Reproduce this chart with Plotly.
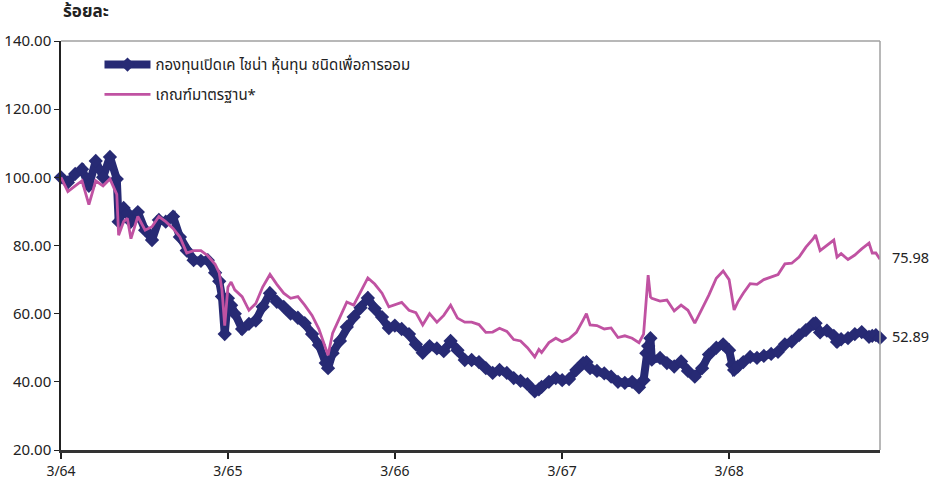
import plotly.graph_objects as go

dates = [
    "2021-03-01", "2021-03-16", "2021-04-01", "2021-04-16", "2021-05-01", "2021-05-16",
    "2021-06-01", "2021-06-16", "2021-07-01", "2021-07-05", "2021-07-16", "2021-07-24",
    "2021-08-01", "2021-08-16", "2021-09-01", "2021-09-16", "2021-10-01", "2021-10-16",
    "2021-11-01", "2021-11-16", "2021-12-01", "2021-12-16", "2022-01-01", "2022-01-16",
    "2022-02-01", "2022-02-10", "2022-02-16", "2022-02-22", "2022-03-01", "2022-03-08",
    "2022-03-16", "2022-04-01", "2022-04-16", "2022-05-01", "2022-05-16", "2022-06-01",
    "2022-06-16", "2022-07-01", "2022-07-16", "2022-08-01", "2022-08-16", "2022-09-01",
    "2022-09-16", "2022-10-01", "2022-10-06", "2022-10-16", "2022-11-01", "2022-11-16",
    "2022-12-01", "2022-12-16", "2023-01-01", "2023-01-16", "2023-02-01", "2023-02-16",
    "2023-03-01", "2023-03-16", "2023-04-01", "2023-04-16", "2023-05-01", "2023-05-16",
    "2023-06-01", "2023-06-16", "2023-07-01", "2023-07-16", "2023-08-01", "2023-08-16",
    "2023-09-01", "2023-09-16", "2023-10-01", "2023-10-16", "2023-11-01", "2023-11-16",
    "2023-12-01", "2023-12-16", "2024-01-01", "2024-01-10", "2024-01-16", "2024-02-01",
    "2024-02-16", "2024-03-01", "2024-03-16", "2024-04-01", "2024-04-16", "2024-04-23",
    "2024-05-01", "2024-05-16", "2024-06-01", "2024-06-16", "2024-07-01", "2024-07-16",
    "2024-08-01", "2024-08-16", "2024-08-26", "2024-09-01", "2024-09-05", "2024-09-10",
    "2024-09-13", "2024-10-01", "2024-10-16", "2024-11-01", "2024-11-16", "2024-12-01",
    "2024-12-16", "2025-01-01", "2025-01-16", "2025-02-01", "2025-02-16", "2025-03-01",
    "2025-03-08", "2025-03-12", "2025-03-20", "2025-04-01", "2025-04-16", "2025-05-01",
    "2025-05-16", "2025-06-01", "2025-06-16", "2025-07-01", "2025-07-16", "2025-08-01",
    "2025-08-16", "2025-09-01", "2025-09-06", "2025-09-16", "2025-10-01", "2025-10-16",
    "2025-10-23", "2025-11-01", "2025-11-16", "2025-12-01", "2025-12-16", "2026-01-01",
    "2026-01-08", "2026-01-16", "2026-01-25",
]

fund = [
    100.0, 98.5, 101.0, 102.4, 97.5, 104.8,
    100.0, 106.0, 99.5, 87.0, 91.0, 89.5,
    87.0, 89.8, 84.5, 81.6, 87.5, 87.0,
    88.5, 82.5, 78.5, 75.7, 75.5, 75.7,
    72.0, 69.5, 65.0, 54.0, 64.5, 62.5,
    60.0, 55.5, 57.0, 58.0, 62.0, 66.0,
    63.5, 62.0, 60.0, 58.8, 57.2, 54.0,
    50.8, 45.5, 44.0, 48.4, 52.0, 56.1,
    59.0, 61.7, 64.6, 61.5, 59.0, 55.8,
    56.5, 55.5, 54.0, 51.0, 48.5, 50.5,
    49.8, 49.0, 52.0, 49.3, 46.4, 46.4,
    45.8, 44.0, 42.6, 43.5, 42.6, 41.1,
    40.3, 39.3, 37.2, 37.8, 38.5, 40.0,
    41.1, 40.5, 40.8, 43.5, 45.5, 45.8,
    44.0, 43.2, 42.5, 41.5, 40.0, 39.7,
    40.0, 38.4, 40.5, 48.4, 50.5, 52.8,
    46.5, 47.0, 45.5, 44.5, 46.0, 43.2,
    41.5, 44.0, 48.0, 50.0, 51.0, 49.3,
    45.0, 43.5, 44.5, 45.8, 47.3, 47.0,
    47.6, 48.2, 48.8, 51.0, 51.8, 53.7,
    55.2, 57.0, 57.2, 54.5, 55.0, 53.5,
    51.7, 52.5, 52.8, 54.0, 54.6, 53.2,
    53.5, 53.7, 52.89,
]

bench = [
    100.0, 95.8, 97.5, 99.0, 92.0, 99.0,
    97.5, 99.5, 95.0, 83.0, 87.0, 88.0,
    82.0, 88.5, 84.5, 85.5, 88.5, 87.0,
    85.0, 82.5, 77.8, 78.5, 78.5, 77.0,
    74.5, 72.0, 67.0, 56.5, 67.8, 69.3,
    67.0, 65.0, 61.0, 63.0, 67.8, 71.5,
    68.6, 66.0, 64.5, 65.0, 62.5, 59.5,
    55.5, 50.0, 47.8, 54.3, 59.0, 63.4,
    62.5, 66.5, 70.5, 68.7, 66.0, 62.0,
    62.5, 63.3, 61.0, 60.3, 56.7, 60.0,
    57.5, 59.5, 62.5, 58.7, 57.5, 57.5,
    56.8, 54.5, 54.6, 55.7, 54.8, 52.4,
    52.0, 50.0, 47.3, 49.5, 48.6, 51.5,
    52.8, 51.8, 52.6, 54.5, 58.2, 60.0,
    56.7, 56.5, 55.5, 55.8, 53.0, 53.5,
    52.8, 51.5, 54.0, 66.0, 71.3, 64.9,
    64.5, 63.7, 64.0, 60.8, 62.5, 61.0,
    57.2, 61.5, 65.5, 70.4, 72.5, 70.0,
    64.0, 61.1, 63.4, 66.0, 68.8, 68.6,
    70.0, 70.8, 71.5, 74.6, 74.8, 76.6,
    79.5, 82.0, 83.1, 78.5, 80.0, 81.6,
    76.6, 77.6, 75.9, 77.2, 79.0, 80.7,
    77.8, 77.8, 75.98,
]

fund_name = "กองทุนเปิดเค ไชน่า หุ้นทุน ชนิดเพื่อการออม"
bench_name = "เกณฑ์มาตรฐาน*"
y_title = "ร้อยละ"
tick_dates = ["2021-03-01", "2022-03-01", "2023-03-01", "2024-03-01", "2025-03-01"]
tick_labels = ["3/64", "3/65", "3/66", "3/67", "3/68"]
y_ticks = [20, 40, 60, 80, 100, 120, 140]

NAVY = "#272a74"
MAGENTA = "#c052a2"
FONT = "Tahoma, 'Noto Sans Thai', 'Noto Sans', 'DejaVu Sans', sans-serif"

fig = go.Figure()
fig.add_trace(go.Scatter(
    x=dates, y=fund, name=fund_name, mode="lines+markers",
    line=dict(color=NAVY, width=8),
    marker=dict(symbol="diamond", size=11, color=NAVY),
    cliponaxis=False, legend="legend",
))
fig.add_trace(go.Scatter(
    x=dates, y=bench, name=bench_name, mode="lines",
    line=dict(color=MAGENTA, width=2.8),
    cliponaxis=False, legend="legend2",
))

for vals in (bench, fund):
    fig.add_annotation(
        x=dates[-1], y=vals[-1], text=f"{vals[-1]:.2f}", showarrow=False,
        xanchor="left", xshift=10, font=dict(size=14.5, color="#222", family=FONT),
    )

fig.add_annotation(
    xref="paper", yref="paper", x=0.0, y=1.035, xanchor="left", yanchor="bottom",
    text=f"<b>{y_title}</b>", showarrow=False, font=dict(size=17, color="#222", family=FONT),
)

# grey top and right frame lines
fig.add_shape(type="line", xref="paper", yref="paper", x0=0, x1=1, y0=1, y1=1,
              line=dict(color="#a0a0a0", width=1.5))
fig.add_shape(type="line", xref="paper", yref="paper", x0=1, x1=1, y0=0, y1=1,
              line=dict(color="#a0a0a0", width=1.5))

fig.update_layout(
    width=930, height=482,
    margin=dict(l=61, r=50, t=41, b=32, autoexpand=False),
    paper_bgcolor="white", plot_bgcolor="white",
    font=dict(family=FONT, size=14, color="#222"),
    showlegend=True,
    legend=dict(x=0.047, y=0.982, xanchor="left", yanchor="top", itemwidth=46,
                bgcolor="rgba(0,0,0,0)", font=dict(size=15)),
    legend2=dict(x=0.047, y=0.909, xanchor="left", yanchor="top", itemwidth=46,
                 bgcolor="rgba(0,0,0,0)", font=dict(size=15)),
    xaxis=dict(
        type="date", range=["2021-03-01", "2026-01-25"], automargin=False,
        tickvals=tick_dates, ticktext=tick_labels,
        ticks="outside", ticklen=6, tickwidth=1.5, tickcolor="#222",
        showline=True, linecolor="#333", linewidth=2.5,
        showgrid=False, zeroline=False, tickfont=dict(size=14),
        ticklabelstandoff=0,
    ),
    yaxis=dict(
        range=[20, 140], tickvals=y_ticks, tickformat=".2f", automargin=False,
        ticks="outside", ticklen=5, tickcolor="#222",
        showline=True, linecolor="#222", linewidth=1.5,
        showgrid=False, zeroline=False, tickfont=dict(size=15),
    ),
)

fig.write_html(
    "out.html",
    config={"displayModeBar": False},
    post_script="document.body.style.margin='0px';document.body.style.overflow='hidden';",
)
